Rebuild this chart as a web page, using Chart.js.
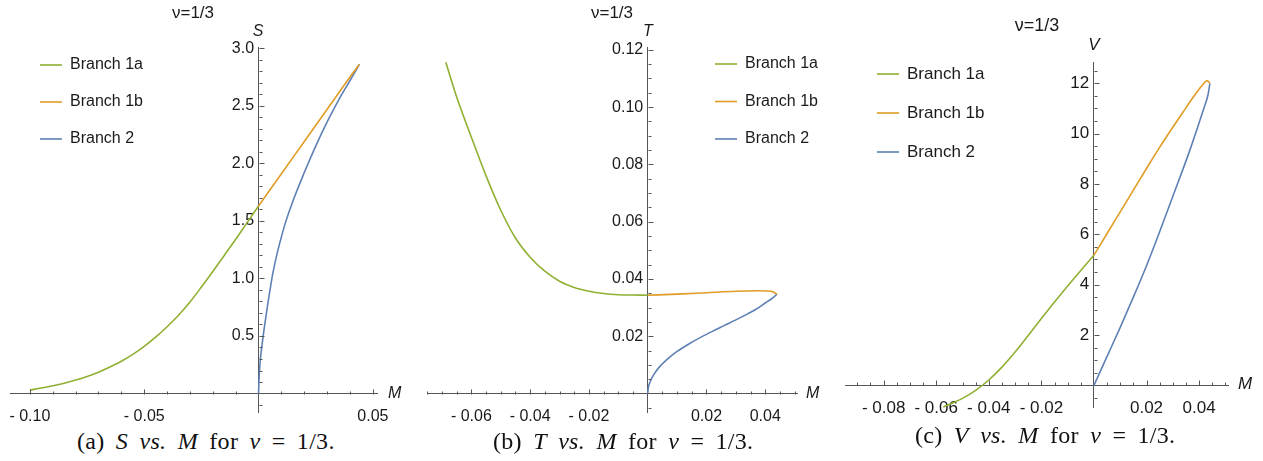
<!DOCTYPE html>
<html>
<head>
<meta charset="utf-8">
<script src="https://cdn.jsdelivr.net/npm/chart.js@4.4.1/dist/chart.umd.min.js"></script>
<style>
  body { margin: 0; background: #fff; width: 1263px; height: 461px; position: relative; overflow: hidden; }
  .panel { position: absolute; top: 0; height: 425px; }
  .cap { position: absolute; font-family: "Liberation Serif", serif; font-size: 24px; white-space: nowrap; color: #111; word-spacing: 5px; letter-spacing: 0.3px; }
</style>
</head>
<body>
<div class="panel" style="left:0;width:420px"><canvas id="chartS"></canvas></div>
<div class="panel" style="left:420px;width:420px"><canvas id="chartT"></canvas></div>
<div class="panel" style="left:840px;width:423px"><canvas id="chartV"></canvas></div>
<div class="cap" style="left:77px;top:428px">(a) <i>S</i> <i>vs.</i> <i>M</i> for <i>ν</i> = 1/3.</div>
<div class="cap" style="left:493px;top:428px">(b) <i>T</i> <i>vs.</i> <i>M</i> for <i>ν</i> = 1/3.</div>
<div class="cap" style="left:915px;top:422px">(c) <i>V</i> <i>vs.</i> <i>M</i> for <i>ν</i> = 1/3.</div>
<script>
const branchLabels = ['Branch 1a', 'Branch 1b', 'Branch 2'];

// (a) S vs M
const sM1a = [-0.100, -0.095, -0.090, -0.085, -0.080, -0.075, -0.070, -0.065, -0.060, -0.055, -0.050, -0.045, -0.040, -0.035, -0.030, -0.025, -0.020, -0.015, -0.010, -0.005, 0];
const sS1a = [0.03, 0.048, 0.068, 0.09, 0.117, 0.148, 0.185, 0.23, 0.28, 0.34, 0.41, 0.49, 0.58, 0.68, 0.795, 0.925, 1.06, 1.20, 1.34, 1.485, 1.63];
const sM1b = [0, 0.010, 0.020, 0.030, 0.040, 0.0441];
const sS1b = [1.63, 1.91, 2.19, 2.47, 2.75, 2.86];
const sM2 = [0, 0.0002, 0.0007, 0.0015, 0.0036, 0.0065, 0.0108, 0.015, 0.020, 0.025, 0.030, 0.035, 0.040, 0.0441];
const sS2 = [0, 0.12, 0.28, 0.42, 0.72, 1.07, 1.42, 1.67, 1.92, 2.15, 2.36, 2.55, 2.72, 2.86];

// (b) T vs M
const tM1a = [-0.0687, -0.065, -0.060, -0.055, -0.050, -0.045, -0.040, -0.035, -0.030, -0.025, -0.020, -0.015, -0.010, -0.005, 0];
const tT1a = [0.1157, 0.1035, 0.0895, 0.0760, 0.0640, 0.0543, 0.0476, 0.0427, 0.0392, 0.0370, 0.0357, 0.0349, 0.0345, 0.0344, 0.0343];
const tM1b = [0, 0.010, 0.020, 0.030, 0.038, 0.042, 0.0440];
const tT1b = [0.0343, 0.0347, 0.0352, 0.0357, 0.0359, 0.0357, 0.0347];
const tM2 = [0, 0.0002, 0.0008, 0.002, 0.004, 0.007, 0.010, 0.014, 0.018, 0.022, 0.026, 0.030, 0.034, 0.037, 0.040, 0.042, 0.044];
const tT2 = [0, 0.0020, 0.0040, 0.0065, 0.0093, 0.0123, 0.0147, 0.0173, 0.0196, 0.0217, 0.0237, 0.0257, 0.0278, 0.0295, 0.0316, 0.0330, 0.0347];

// (c) V vs M
const vM1a = [-0.0573, -0.050, -0.045, -0.040, -0.035, -0.030, -0.025, -0.020, -0.015, -0.010, -0.005, 0];
const vV1a = [-0.86, -0.52, -0.20, 0.21, 0.72, 1.32, 1.98, 2.65, 3.31, 3.94, 4.56, 5.17];
const vM1b = [0, 0.005, 0.010, 0.015, 0.020, 0.0251, 0.030, 0.035, 0.0378, 0.040, 0.0415, 0.0425, 0.0430, 0.0436, 0.0441];
const vV1b = [5.17, 6.03, 6.89, 7.75, 8.61, 9.47, 10.25, 11.02, 11.45, 11.76, 11.96, 12.07, 12.09, 12.06, 11.99];
const vM2 = [0, 0.005, 0.010, 0.015, 0.020, 0.025, 0.030, 0.0365, 0.0416, 0.0435, 0.0441];
const vV2 = [0, 1.15, 2.30, 3.50, 4.75, 6.10, 7.50, 9.34, 10.93, 11.59, 11.99];

// tick labels
const sXTicks = [-0.10, -0.05, 0.05];
const sXLabels = ['- 0.10', '- 0.05', '0.05'];
const sYTicks = [0.5, 1.0, 1.5, 2.0, 2.5, 3.0];
const sYLabels = ['0.5', '1.0', '1.5', '2.0', '2.5', '3.0'];
const tXTicks = [-0.06, -0.04, -0.02, 0.02, 0.04];
const tXLabels = ['- 0.06', '- 0.04', '- 0.02', '0.02', '0.04'];
const tYTicks = [0.02, 0.04, 0.06, 0.08, 0.10, 0.12];
const tYLabels = ['0.02', '0.04', '0.06', '0.08', '0.10', '0.12'];
const vXTicks = [-0.08, -0.06, -0.04, -0.02, 0.02, 0.04];
const vXLabels = ['- 0.08', '- 0.06', '- 0.04', '- 0.02', '0.02', '0.04'];
const vYTicks = [2, 4, 6, 8, 10, 12];
const vYLabels = ['2', '4', '6', '8', '10', '12'];

const GREEN = '#8fb032', ORANGE = '#e09c24', BLUE = '#5e81b5';
const AXIS = '#555555', TEXT = '#1a1a1a';

Chart.defaults.font.family = '"Liberation Sans", Arial, sans-serif';
Chart.defaults.font.size = 16;
Chart.defaults.color = TEXT;

function pts(xs, ys) {
    return xs.map((x, i) => ({ x, y: ys[i] }));
}

// Mathematica-like axes decorations: inward ticks, axis names, title, legend
const mmaDecor = {
    id: 'mmaDecor',
    afterDraw(chart, args, o) {
        const { ctx } = chart;
        const xs = chart.scales.x, ys = chart.scales.y;
        const x0 = Math.round(xs.getPixelForValue(0)) + 0.5;
        const y0 = Math.round(ys.getPixelForValue(0)) + 0.5;
        ctx.save();
        ctx.strokeStyle = AXIS;
        ctx.lineWidth = 1;
        ctx.beginPath();
        for (let k = Math.ceil(xs.min / o.xMinor - 1e-6); k * o.xMinor <= xs.max + 1e-9; k++) {
            if (k === 0) continue;
            const v = k * o.xMinor;
            const major = o.xMajor.some(m => Math.abs(m - v) < o.xMinor / 10);
            const px = Math.round(xs.getPixelForValue(v)) + 0.5;
            ctx.moveTo(px, y0);
            ctx.lineTo(px, y0 - (major ? 5 : 3));
        }
        for (let k = Math.ceil(ys.min / o.yMinor - 1e-6); k * o.yMinor <= ys.max + 1e-9; k++) {
            if (k === 0) continue;
            const v = k * o.yMinor;
            const major = o.yMajor.some(m => Math.abs(m - v) < o.yMinor / 10);
            const py = Math.round(ys.getPixelForValue(v)) + 0.5;
            ctx.moveTo(x0, py);
            ctx.lineTo(x0 + (major ? 5 : 3), py);
        }
        ctx.stroke();

        ctx.fillStyle = TEXT;
        ctx.textBaseline = 'middle';
        ctx.font = 'italic ' + o.fontSize + 'px "Liberation Sans", Arial, sans-serif';
        ctx.textAlign = 'left';
        ctx.fillText(o.xName, o.xNameAt[0], o.xNameAt[1]);
        ctx.textAlign = 'center';
        ctx.fillText(o.yName, o.yNameAt[0], o.yNameAt[1]);

        ctx.font = (o.fontSize + 1) + 'px "Liberation Sans", Arial, sans-serif';
        ctx.fillText(o.title, o.titleAt[0], o.titleAt[1]);

        ctx.font = o.fontSize + 'px "Liberation Sans", Arial, sans-serif';
        chart.data.datasets.forEach((ds, i) => {
            const ly = o.legend.y + i * o.legend.dy;
            ctx.strokeStyle = ds.borderColor;
            ctx.lineWidth = 1.6;
            ctx.beginPath();
            ctx.moveTo(o.legend.x, ly);
            ctx.lineTo(o.legend.x + 22, ly);
            ctx.stroke();
            ctx.textAlign = 'left';
            ctx.fillText(ds.label, o.legend.x + 30, ly);
        });
        ctx.restore();
    }
};

function axis(min, max, pos, ticks, labels, padding, size, suffix) {
    return {
        type: 'linear', min, max, position: pos,
        grid: { display: false },
        border: { display: true, color: AXIS, width: 1 },
        afterBuildTicks: scale => { scale.ticks = ticks.map(v => ({ value: v })); },
        ticks: { autoSkip: false, maxRotation: 0, padding, font: { size }, callback: (v, i) => labels[i] + suffix }
    };
}

function createChart(id, series, scales, padding, decor) {
    new Chart(document.getElementById(id), {
        type: 'scatter',
        data: {
            datasets: series.map((s, i) => ({
                label: branchLabels[i],
                data: s,
                showLine: true,
                borderColor: [GREEN, ORANGE, BLUE][i],
                borderWidth: 1.6,
                pointRadius: 0,
                cubicInterpolationMode: 'monotone',
                clip: false
            }))
        },
        options: {
            responsive: true,
            maintainAspectRatio: false,
            animation: false,
            events: [],
            layout: { padding },
            scales,
            plugins: { legend: { display: false }, tooltip: { enabled: false }, mmaDecor: decor }
        },
        plugins: [mmaDecor]
    });
}

createChart('chartS',
    [pts(sM1a, sS1a), pts(sM1b, sS1b), pts(sM2, sS2)],
    { x: axis(-0.1087, 0.0518, { y: 0 }, sXTicks, sXLabels, 5, 16, ''),
      y: axis(-0.164, 3.011, { x: 0 }, sYTicks, sYLabels, 3, 16, ' ') },
    { left: 10, right: 43, top: 47, bottom: 10 },
    { xMinor: 0.01, xMajor: sXTicks, yMinor: 0.1, yMajor: sYTicks, fontSize: 16,
      xName: 'M', xNameAt: [388, 394], yName: 'S', yNameAt: [258, 32],
      title: 'ν=1/3', titleAt: [193, 13], legend: { x: 40, y: 65, dy: 37 } });

createChart('chartT',
    [pts(tM1a, tT1a), pts(tM1b, tT1b), pts(tM2, tT2)],
    { x: axis(-0.0751, 0.0508, { y: 0 }, tXTicks, tXLabels, 5, 16, ''),
      y: axis(-0.0066, 0.121, { x: 0 }, tYTicks, tYLabels, 3, 16, ' ') },
    { left: 7, right: 43, top: 47, bottom: 12 },
    { xMinor: 0.005, xMajor: tXTicks, yMinor: 0.005, yMajor: tYTicks, fontSize: 16,
      xName: 'M', xNameAt: [386, 394], yName: 'T', yNameAt: [228, 32],
      title: 'ν=1/3', titleAt: [192, 13], legend: { x: 295, y: 64, dy: 37.5 } });

createChart('chartV',
    [pts(vM1a, vV1a), pts(vM1b, vV1b), pts(vM2, vV2)],
    { x: axis(-0.0947, 0.0510, { y: 0 }, vXTicks, vXLabels, 5, 17, ''),
      y: axis(-0.862, 12.84, { x: 0 }, vYTicks, vYLabels, 3, 17, ' ') },
    { left: 5, right: 35, top: 62, bottom: 18 },
    { xMinor: 0.005, xMajor: vXTicks, yMinor: 0.5, yMajor: vYTicks, fontSize: 17,
      xName: 'M', xNameAt: [398, 384], yName: 'V', yNameAt: [254, 45],
      title: 'ν=1/3', titleAt: [197, 26], legend: { x: 37, y: 74, dy: 39 } });
</script>
</body>
</html>
